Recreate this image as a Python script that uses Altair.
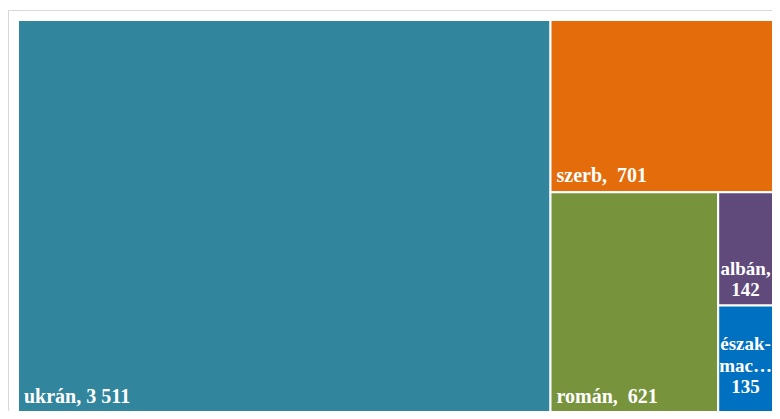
import altair as alt
import pandas as pd

# ---- data ----
categories = ["ukrán", "szerb", "román", "albán", "észak-mac…"]
values = [3511, 701, 621, 142, 135]
labels = ["ukrán, 3 511", "szerb,\u00a0 701", "román,\u00a0 621", "albán,\n142", "észak-\nmac…\n135"]
colors = ["#31859C", "#E46C0A", "#77933C", "#604A7B", "#0070C0"]

# ---- squarified treemap layout (unit-width box) ----
BOX_W = 1.0
BOX_H = 393 / 775


def worst(row, side):
    s = sum(row)
    return max(max(side * side * r / (s * s), (s * s) / (side * side * r)) for r in row)


def squarify(vals, x, y, dx, dy):
    total = sum(vals)
    areas = [v * dx * dy / total for v in vals]
    out = []
    i = 0
    while i < len(areas):
        side = min(dx, dy)
        row = [areas[i]]
        j = i + 1
        while j < len(areas) and worst(row + [areas[j]], side) <= worst(row, side):
            row.append(areas[j])
            j += 1
        s = sum(row)
        if dx >= dy:
            w = s / dy
            cy = y
            for a in row:
                h = a / w
                out.append((x, x + w, cy, cy + h))
                cy += h
            x += w
            dx -= w
        else:
            h = s / dx
            cx = x
            for a in row:
                w = a / h
                out.append((cx, cx + w, y, y + h))
                cx += w
            y += h
            dy -= h
        i = j
    return out


rects = squarify(values, 0.0, 0.0, BOX_W, BOX_H)
df = pd.DataFrame({
    "cat": categories,
    "value": values,
    "label": labels,
    "x0": [r[0] for r in rects],
    "x1": [r[1] for r in rects],
    "y0": [r[2] for r in rects],
    "y1": [r[3] for r in rects],
})
df["xc"] = (df["x0"] + df["x1"]) / 2

W, H = 764, 403
xs = alt.Scale(domain=[-10 / 775, (W - 10) / 775], nice=False, zero=False)
ys = alt.Scale(domain=[-12 / 775, (H - 12) / 775], reverse=True, nice=False, zero=False)

base = alt.Chart(df)

rect = base.mark_rect(stroke="white", strokeWidth=2, clip=True).encode(
    x=alt.X("x0:Q", scale=xs, axis=None),
    x2="x1:Q",
    y=alt.Y("y0:Q", scale=ys, axis=None),
    y2="y1:Q",
    color=alt.Color("cat:N", scale=alt.Scale(domain=categories, range=colors), legend=None),
)

font = dict(font="Liberation Serif", fontWeight="bold", fontSize=20, color="white")
font_small = dict(font="Liberation Serif", fontWeight="bold", fontSize=19, color="white")

text_left = base.transform_filter(
    alt.FieldOneOfPredicate(field="cat", oneOf=categories[:3])
).mark_text(align="left", baseline="alphabetic", dx=6, dy=-10, **font).encode(
    x=alt.X("x0:Q", scale=xs, axis=None),
    y=alt.Y("y1:Q", scale=ys, axis=None),
    text="label:N",
)

text_alban = base.transform_filter(alt.datum.cat == categories[3]).mark_text(
    align="center", baseline="alphabetic", dx=-10, dy=-30, lineBreak="\n", lineHeight=21, **font_small
).encode(
    x=alt.X("xc:Q", scale=xs, axis=None),
    y=alt.Y("y1:Q", scale=ys, axis=None),
    text="label:N",
)

text_eszak = base.transform_filter(alt.datum.cat == categories[4]).mark_text(
    align="center", baseline="alphabetic", dx=-10, dy=-63, lineBreak="\n", lineHeight=21.5, **font_small
).encode(
    x=alt.X("xc:Q", scale=xs, axis=None),
    y=alt.Y("y1:Q", scale=ys, axis=None),
    text="label:N",
)

frame_left = alt.Chart(pd.DataFrame({"a": [0]})).mark_rule(color="#d9d9d9", strokeWidth=1).encode(
    x=alt.value(0.5), y=alt.value(2), y2=alt.value(H)
)
frame_top = alt.Chart(pd.DataFrame({"a": [0]})).mark_rule(color="#d9d9d9", strokeWidth=1).encode(
    x=alt.value(0), x2=alt.value(W), y=alt.value(2.5)
)

chart = alt.layer(frame_left, frame_top, rect, text_left, text_alban, text_eszak).properties(
    width=W,
    height=H,
    autosize=alt.AutoSizeParams(type="none"),
    padding=0,
    background="white",
).configure_view(stroke=None)

chart.save("out.html", embed_options={"renderer": "svg", "actions": False})
